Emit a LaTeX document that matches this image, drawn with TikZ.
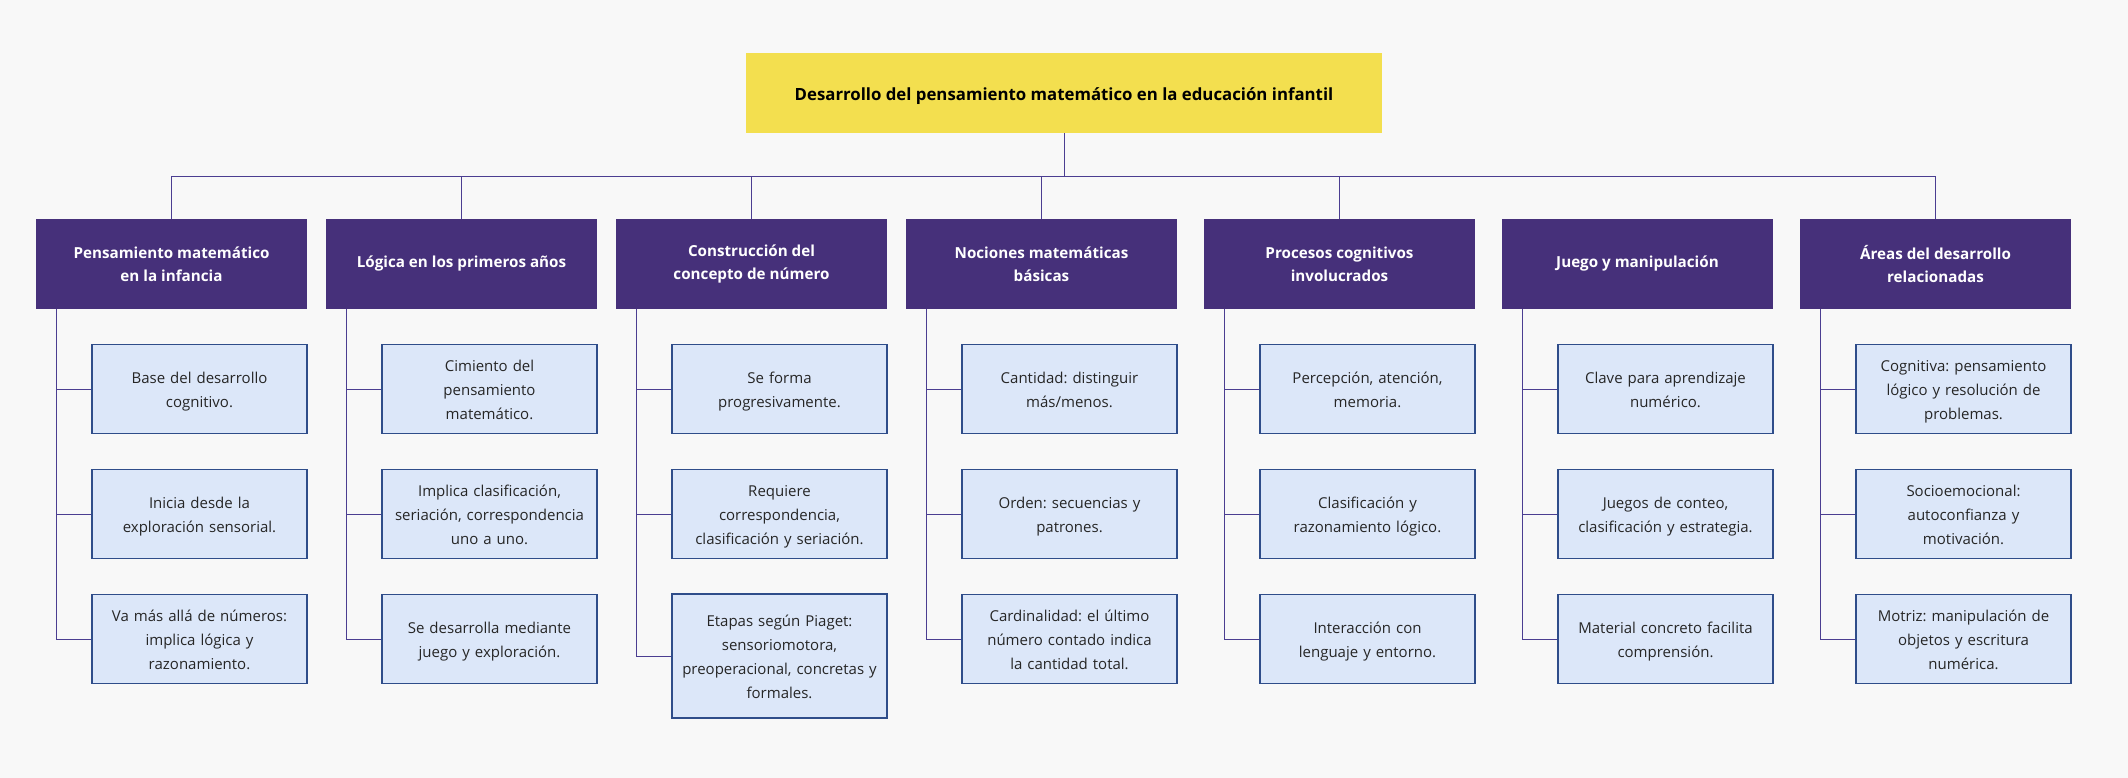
\documentclass[tikz,border=0pt]{standalone}
\usepackage{fontspec}
\setmainfont{Open Sans}
\usepackage{tikz}
\frenchspacing

\definecolor{bgcol}{HTML}{F8F8F8}
\definecolor{topyellow}{HTML}{F3DF4F}
\definecolor{headpurple}{HTML}{46307A}
\definecolor{leafblue}{HTML}{DCE7F9}
\definecolor{leafline}{HTML}{2F4D8A}
\definecolor{linkpurple}{HTML}{4B3E91}

\begin{document}
\begin{tikzpicture}[x=1pt,y=-1pt,
    topbox/.style={fill=topyellow,minimum width=636pt,minimum height=80pt,inner sep=0pt,
      font=\bfseries\fontsize{16.8}{20}\selectfont,text=black,
      execute at begin node={\rule{0pt}{19pt}},execute at end node={\rule[-4pt]{0pt}{4pt}}},
    headbox/.style={fill=headpurple,minimum width=271pt,minimum height=90pt,inner sep=0pt,
      align=center,text=white,font=\bfseries\fontsize{15.2}{23}\selectfont},
    leafbox/.style={fill=leafblue,draw=leafline,line width=1.1pt,minimum width=215pt,
      minimum height=89pt,inner sep=0pt,text width=205pt,align=center,text=black!85,
      font=\fontsize{15}{24}\selectfont\frenchspacing,
      execute at begin node={\rule{0pt}{16pt}},execute at end node={\rule[-4pt]{0pt}{4pt}}},
    link/.style={draw=linkpurple,line width=1pt}]
       \fill[bgcol] (0,0) rectangle (2128,778);
       \useasboundingbox (0,0) rectangle (2128,778);
       \node[topbox] (top) at (1064,93) {Desarrollo del pensamiento matemático en la educación infantil};
       \coordinate (bus) at (1064,177);
       \begin{scope}[shift={(171.5,0)}]
         \node[headbox] (pm) at (0,264) {Pensamiento matemático\\en la infancia};
         \node[leafbox] (pm1) at (28,389) {Base del desarrollo\\cognitivo.};
         \node[leafbox] (pm2) at (28,514) {Inicia desde la\\exploración sensorial.};
         \node[leafbox] (pm3) at (28,639) {Va más allá de números:\\implica lógica y\\razonamiento.};
         \draw[link] ([xshift=21pt]pm.south west) |- (pm1.west);
         \draw[link] ([xshift=21pt]pm.south west) |- (pm2.west);
         \draw[link] ([xshift=21pt]pm.south west) |- (pm3.west);
       \end{scope}
       \begin{scope}[shift={(461.5,0)}]
         \node[headbox] (lg) at (0,264) {Lógica en los primeros años};
         \node[leafbox] (lg1) at (28,389) {Cimiento del\\pensamiento\\matemático.};
         \node[leafbox] (lg2) at (28,514) {Implica clasificación,\\seriación, correspondencia\\uno a uno.};
         \node[leafbox] (lg3) at (28,639) {Se desarrolla mediante\\juego y exploración.};
         \draw[link] ([xshift=21pt]lg.south west) |- (lg1.west);
         \draw[link] ([xshift=21pt]lg.south west) |- (lg2.west);
         \draw[link] ([xshift=21pt]lg.south west) |- (lg3.west);
       \end{scope}
       \begin{scope}[shift={(751.5,0)}]
         \node[headbox] (cn) at (0,264) {Construcción del\\concepto de número};
         \node[leafbox] (cn1) at (28,389) {Se forma\\progresivamente.};
         \node[leafbox] (cn2) at (28,514) {Requiere\\correspondencia,\\clasificación y seriación.};
         \node[leafbox,minimum height=124pt] (cn3) at (28,656) {Etapas según Piaget:\\sensoriomotora,\\preoperacional, concretas y\\formales.};
         \draw[link] ([xshift=21pt]cn.south west) |- (cn1.west);
         \draw[link] ([xshift=21pt]cn.south west) |- (cn2.west);
         \draw[link] ([xshift=21pt]cn.south west) |- (cn3.west);
       \end{scope}
       \begin{scope}[shift={(1041.5,0)}]
         \node[headbox] (nm) at (0,264) {Nociones matemáticas\\básicas};
         \node[leafbox] (nm1) at (28,389) {Cantidad: distinguir\\más/menos.};
         \node[leafbox] (nm2) at (28,514) {Orden: secuencias y\\patrones.};
         \node[leafbox] (nm3) at (28,639) {Cardinalidad: el último\\número contado indica\\la cantidad total.};
         \draw[link] ([xshift=21pt]nm.south west) |- (nm1.west);
         \draw[link] ([xshift=21pt]nm.south west) |- (nm2.west);
         \draw[link] ([xshift=21pt]nm.south west) |- (nm3.west);
       \end{scope}
       \begin{scope}[shift={(1339.5,0)}]
         \node[headbox] (pc) at (0,264) {Procesos cognitivos\\involucrados};
         \node[leafbox] (pc1) at (28,389) {Percepción, atención,\\memoria.};
         \node[leafbox] (pc2) at (28,514) {Clasificación y\\razonamiento lógico.};
         \node[leafbox] (pc3) at (28,639) {Interacción con\\lenguaje y entorno.};
         \draw[link] ([xshift=21pt]pc.south west) |- (pc1.west);
         \draw[link] ([xshift=21pt]pc.south west) |- (pc2.west);
         \draw[link] ([xshift=21pt]pc.south west) |- (pc3.west);
       \end{scope}
       \begin{scope}[shift={(1637.5,0)}]
         \node[headbox] (jm) at (0,264) {Juego y manipulación};
         \node[leafbox] (jm1) at (28,389) {Clave para aprendizaje\\numérico.};
         \node[leafbox] (jm2) at (28,514) {Juegos de conteo,\\clasificación y estrategia.};
         \node[leafbox] (jm3) at (28,639) {Material concreto facilita\\comprensión.};
         \draw[link] ([xshift=21pt]jm.south west) |- (jm1.west);
         \draw[link] ([xshift=21pt]jm.south west) |- (jm2.west);
         \draw[link] ([xshift=21pt]jm.south west) |- (jm3.west);
       \end{scope}
       \begin{scope}[shift={(1935.5,0)}]
         \node[headbox] (ad) at (0,264) {Áreas del desarrollo\\relacionadas};
         \node[leafbox] (ad1) at (28,389) {Cognitiva: pensamiento\\lógico y resolución de\\problemas.};
         \node[leafbox] (ad2) at (28,514) {Socioemocional:\\autoconfianza y\\motivación.};
         \node[leafbox] (ad3) at (28,639) {Motriz: manipulación de\\objetos y escritura\\numérica.};
         \draw[link] ([xshift=21pt]ad.south west) |- (ad1.west);
         \draw[link] ([xshift=21pt]ad.south west) |- (ad2.west);
         \draw[link] ([xshift=21pt]ad.south west) |- (ad3.west);
       \end{scope}
       % tree lines from the title
       \draw[link] (top.south) -- (bus);
       \draw[link] (pm.north) |- (bus);
       \draw[link] (lg.north) |- (bus);
       \draw[link] (cn.north) |- (bus);
       \draw[link] (nm.north) |- (bus);
       \draw[link] (pc.north) |- (bus);
       \draw[link] (ad.north) |- (bus);
     \end{tikzpicture}
\end{document}
